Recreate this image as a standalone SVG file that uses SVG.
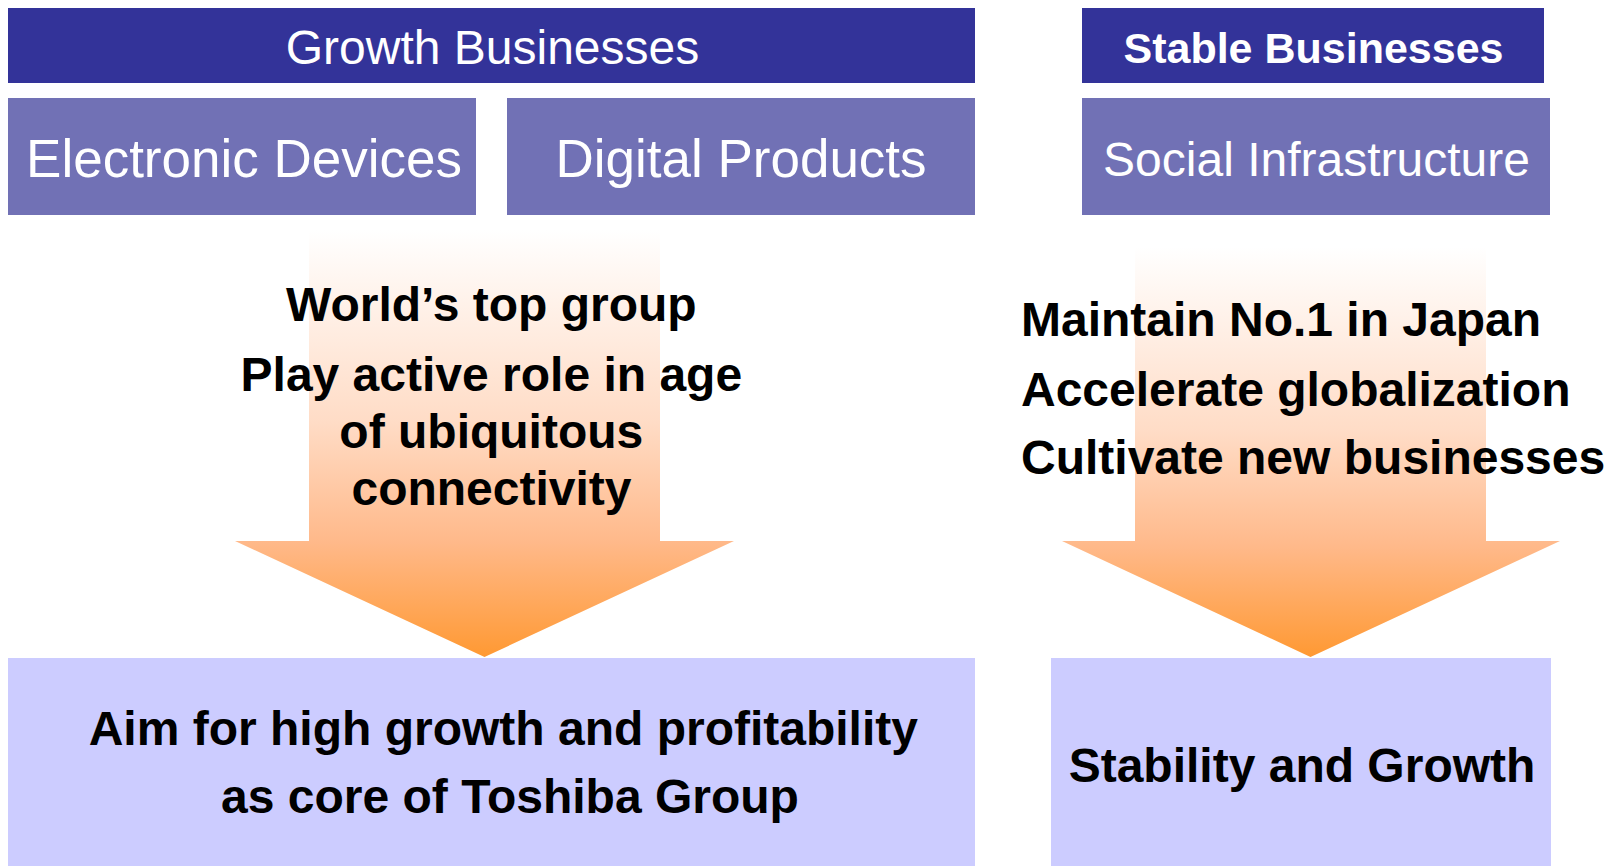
<svg xmlns="http://www.w3.org/2000/svg" width="1609" height="866" viewBox="0 0 1609 866">
  <defs>
    <linearGradient id="arrowFill" x1="0" y1="0" x2="0" y2="1">
      <stop offset="0" stop-color="#FFFFFF"/>
      <stop offset="0.45" stop-color="#FFDCC6"/>
      <stop offset="0.73" stop-color="#FFB98A"/>
      <stop offset="1" stop-color="#FF9933"/>
    </linearGradient>
  </defs>
  <style>
    text { font-family: "Liberation Sans", Arial, sans-serif; }
    .header { fill: #333399; }
    .segment { fill: #7171B5; }
    .goal { fill: #CCCCFF; }
    .arrow { fill: url(#arrowFill); }
    .white { fill: #FFFFFF; }
    .dark { fill: #000000; font-weight: bold; font-size: 48px; }
  </style>

  <rect width="1609" height="866" fill="#FFFFFF"/>

  <!-- big down arrows -->
  <g id="connectors">
    <polygon class="arrow" points="309,230 660,230 660,541 734,541 484.5,657 235,541 309,541"/>
    <polygon class="arrow" points="1135,247 1486,247 1486,541 1560,541 1310.5,657 1062,541 1135,541"/>
  </g>

  <!-- headers -->
  <g id="growth-header">
    <rect class="header" x="8" y="8" width="967" height="75"/>
    <text class="white" x="492.5" y="64" font-size="48" text-anchor="middle">Growth Businesses</text>
  </g>
  <g id="stable-header">
    <rect class="header" x="1082" y="8" width="462" height="75"/>
    <text class="white" x="1313.5" y="62.5" font-size="43" font-weight="bold" text-anchor="middle">Stable Businesses</text>
  </g>

  <!-- business segments -->
  <g id="electronic-devices">
    <rect class="segment" x="8" y="98" width="468" height="117"/>
    <text class="white" x="244" y="177" font-size="53" text-anchor="middle">Electronic Devices</text>
  </g>
  <g id="digital-products">
    <rect class="segment" x="507" y="98" width="468" height="117"/>
    <text class="white" x="741" y="177" font-size="53" text-anchor="middle">Digital Products</text>
  </g>
  <g id="social-infrastructure">
    <rect class="segment" x="1082" y="98" width="468" height="117"/>
    <text class="white" x="1316.5" y="176" font-size="48" text-anchor="middle">Social Infrastructure</text>
  </g>

  <!-- strategy texts over arrows -->
  <g id="growth-strategy">
    <text class="dark" text-anchor="middle">
      <tspan x="498" y="321">World’s top group</tspan>
      <tspan x="498" y="391">Play active role in age</tspan>
      <tspan x="498" y="448">of ubiquitous</tspan>
      <tspan x="491.5" y="505">connectivity</tspan>
    </text>
  </g>
  <g id="stable-strategy">
    <text class="dark">
      <tspan x="1021" y="336">Maintain No.1 in Japan</tspan>
      <tspan x="1021" y="406">Accelerate globalization</tspan>
      <tspan x="1021" y="474">Cultivate new businesses</tspan>
    </text>
  </g>

  <!-- goals -->
  <g id="growth-goal">
    <rect class="goal" x="8" y="658" width="967" height="208"/>
    <text class="dark" text-anchor="middle">
      <tspan x="510" y="745">Aim for high growth and profitability</tspan>
      <tspan x="510" y="813">as core of Toshiba Group</tspan>
    </text>
  </g>
  <g id="stable-goal">
    <rect class="goal" x="1051" y="658" width="500" height="208"/>
    <text class="dark" x="1302" y="782" text-anchor="middle">Stability and Growth</text>
  </g>
</svg>
